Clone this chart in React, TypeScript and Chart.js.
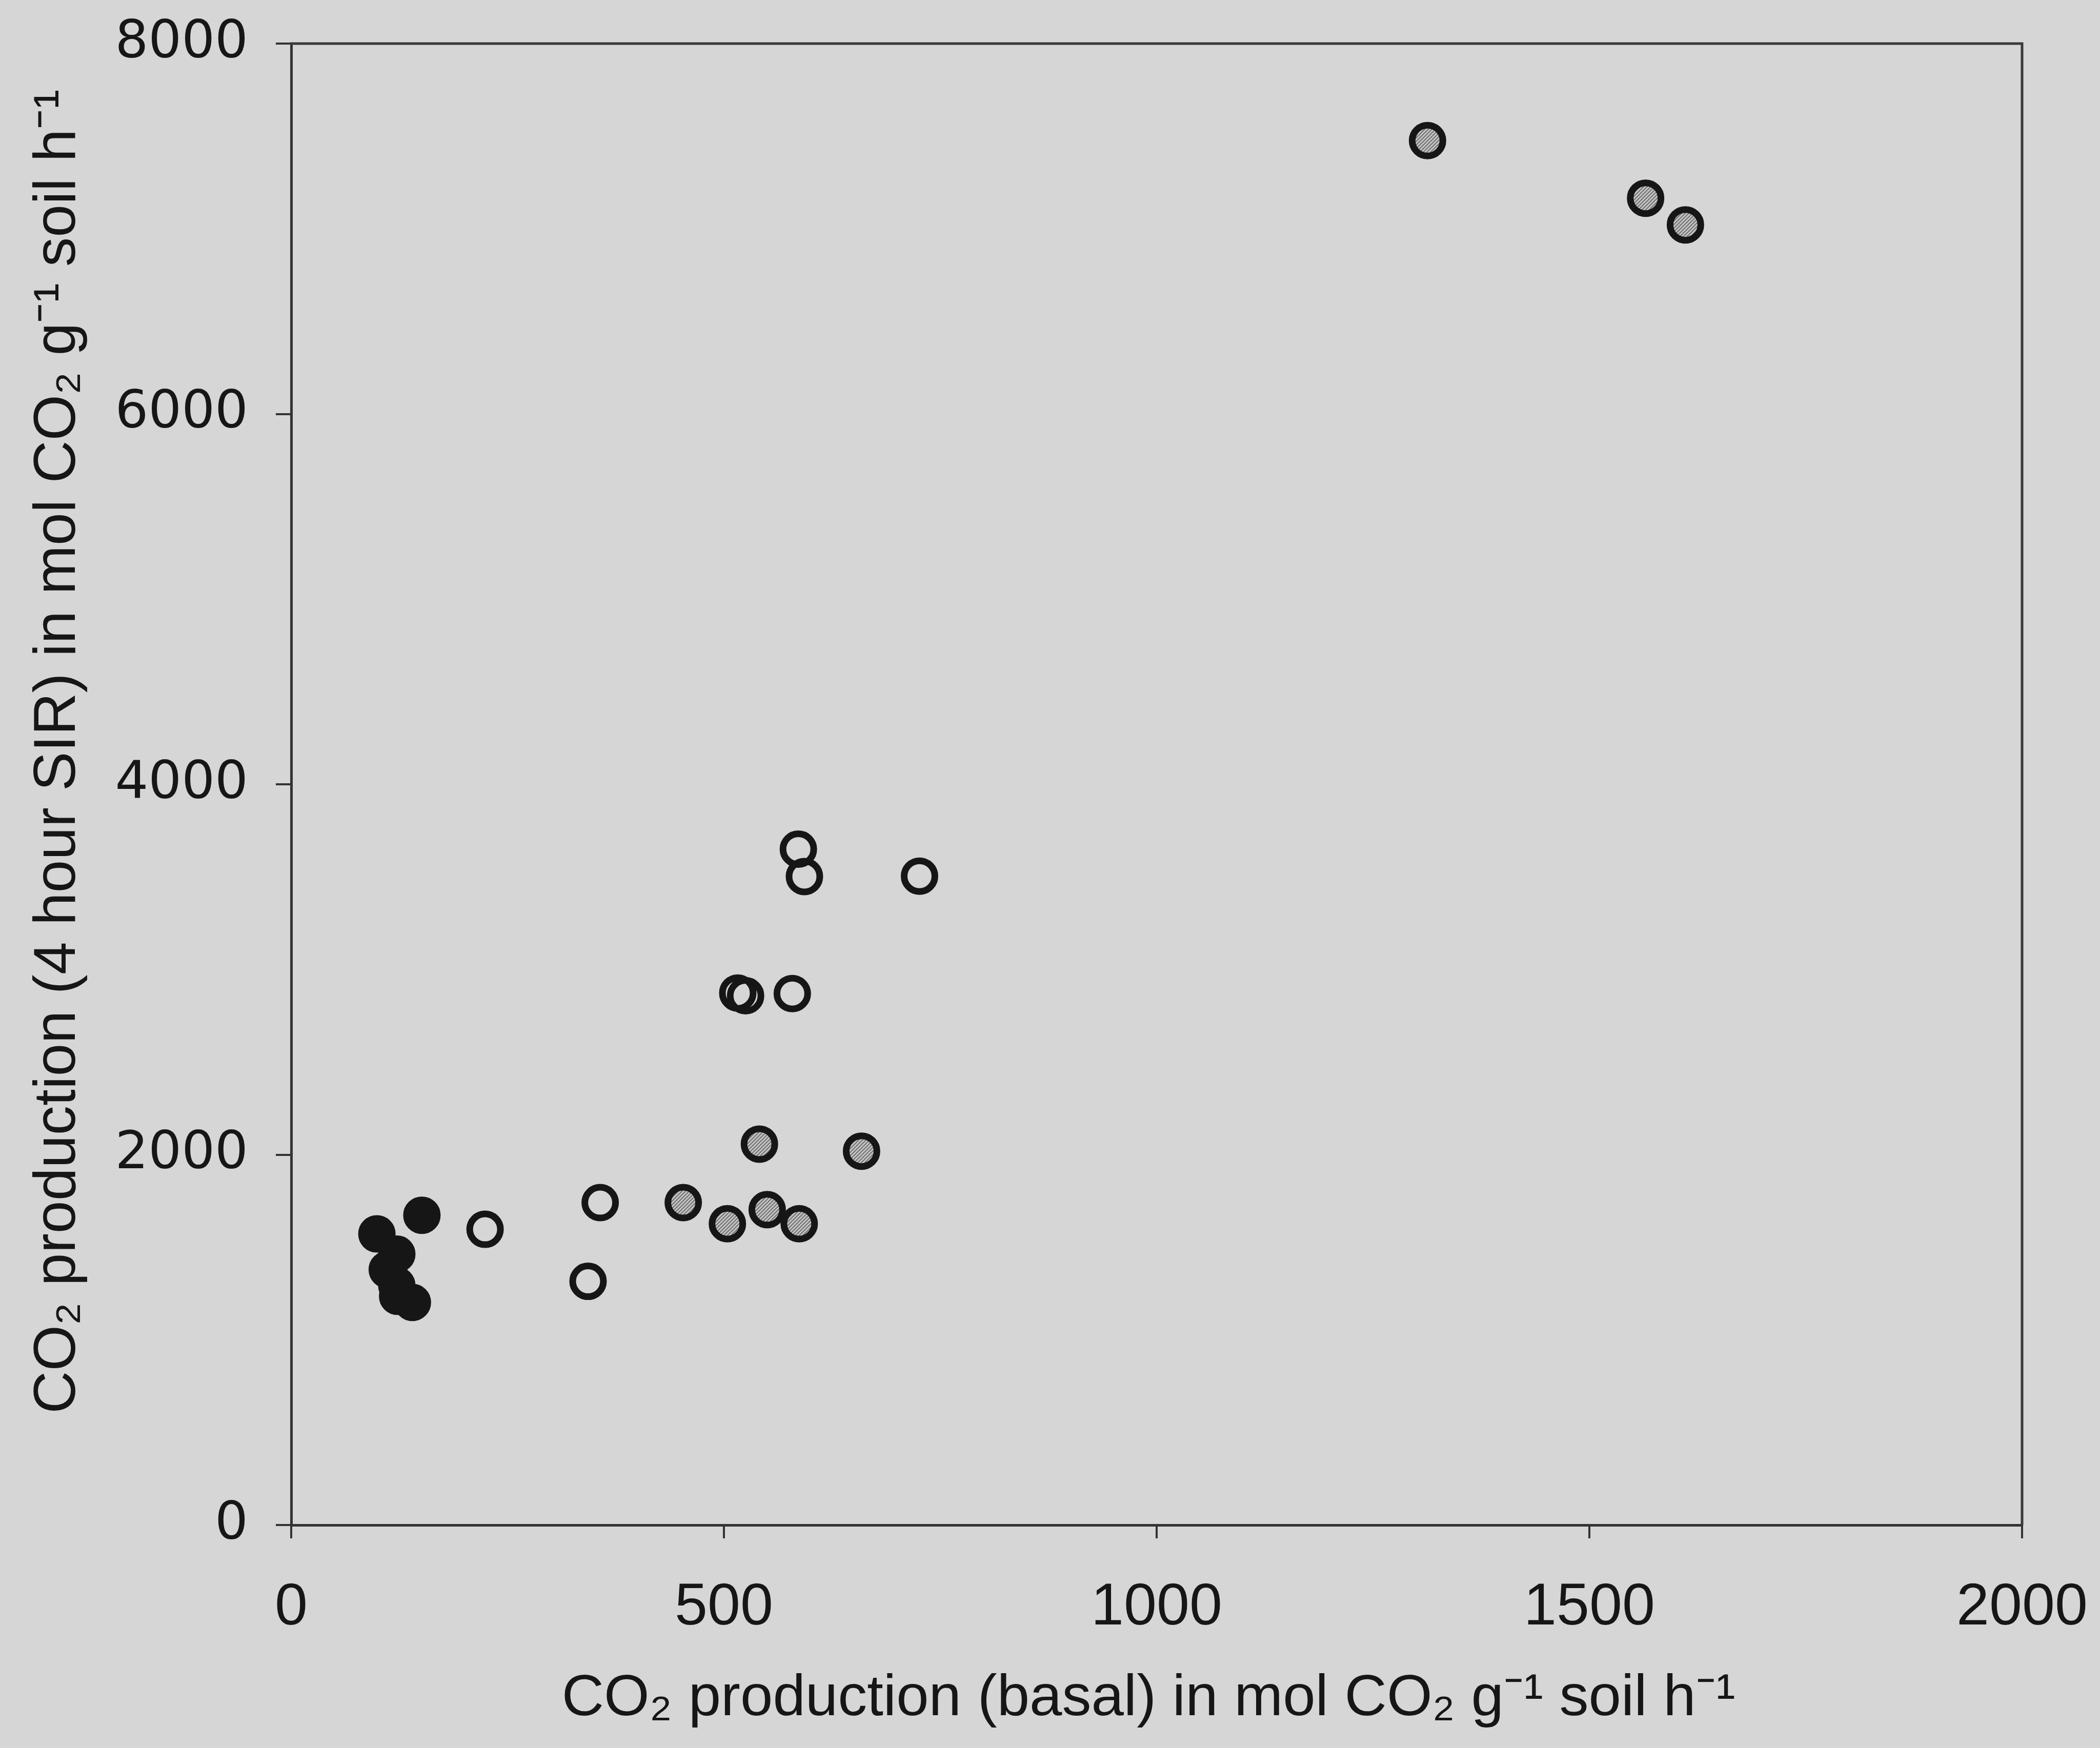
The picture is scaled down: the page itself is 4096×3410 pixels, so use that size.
import React, { useEffect, useRef } from "react";
import { Chart, registerables } from "chart.js";

Chart.register(...registerables);

const W = 4096;
const H = 3410;

// Basal CO2 production (x) against 4-hour substrate-induced respiration (y)
const openBasal = [224, 343, 357, 516, 525, 579, 586, 593, 726];
const openSIR = [1597, 1316, 1741, 2873, 2858, 2870, 3650, 3502, 3504];

const hatchedBasal = [453, 504, 541, 550, 587, 659, 1313, 1565, 1611];
const hatchedSIR = [1741, 1627, 2057, 1703, 1627, 2019, 7476, 7165, 7021];

const solidBasal = [151, 99, 122, 111, 122, 123, 140];
const solidSIR = [1673, 1572, 1463, 1379, 1294, 1235, 1202];

const xTicks = [0, 500, 1000, 1500, 2000];
const yTicks = [0, 2000, 4000, 6000, 8000];

const xTitle = "CO₂ production (basal) in mol CO₂ g⁻¹ soil h⁻¹ ";
const yTitle = "    CO₂ production (4 hour SIR) in mol CO₂ g⁻¹ soil h⁻¹";

const BG = "#d6d6d6";
const INK = "#161616";
const AXIS = "#333333";
const TITLE_FONT = "'Liberation Sans Narrow', 'Liberation Sans', Arial, sans-serif";

function pairs(xs: number[], ys: number[]) {
  return xs.map((x, i) => ({ x, y: ys[i] }));
}

// Grey fill with fine "////" hatching for the middle group
function hatchPattern(): CanvasPattern | string {
  const c = document.createElement("canvas");
  const s = 7;
  c.width = s;
  c.height = s;
  const g = c.getContext("2d");
  if (!g) return "#9a9a9a";
  g.fillStyle = "#c4c4c4";
  g.fillRect(0, 0, s, s);
  g.strokeStyle = "#666666";
  g.lineWidth = 1.8;
  g.beginPath();
  g.moveTo(-1, s + 1);
  g.lineTo(s + 1, -1);
  g.moveTo(-1, 1);
  g.lineTo(1, -1);
  g.moveTo(s - 1, s + 1);
  g.lineTo(s + 1, s - 1);
  g.stroke();
  return g.createPattern(c, "repeat") || "#9a9a9a";
}

// Closes the plot box along the top and right edges
const framePlugin = {
  id: "frame",
  afterDraw(chart: any) {
    const { ctx, chartArea: a } = chart;
    ctx.save();
    ctx.strokeStyle = "#3a3a3a";
    ctx.lineWidth = 5;
    ctx.beginPath();
    ctx.moveTo(a.left - 2, a.top);
    ctx.lineTo(a.right, a.top);
    ctx.lineTo(a.right, a.bottom);
    ctx.stroke();
    ctx.restore();
  },
};

const plain = (v: any) => String(v);

export default function App() {
  const ref = useRef<HTMLCanvasElement | null>(null);

  useEffect(() => {
    const canvas = ref.current;
    if (!canvas) return;

    const markerBase = {
      pointRadius: 30,
      pointHoverRadius: 30,
      pointBorderWidth: 13,
      pointBorderColor: INK,
      showLine: false,
    };

    const chart = new Chart(canvas, {
      type: "scatter",
      data: {
        datasets: [
          {
            label: "open",
            data: pairs(openBasal, openSIR),
            ...markerBase,
            pointBackgroundColor: "rgba(0,0,0,0)",
          },
          {
            label: "hatched",
            data: pairs(hatchedBasal, hatchedSIR),
            ...markerBase,
            pointBackgroundColor: hatchPattern() as any,
          },
          {
            label: "solid",
            data: pairs(solidBasal, solidSIR),
            ...markerBase,
            pointBackgroundColor: INK,
          },
        ],
      },
      options: {
        animation: false,
        responsive: false,
        devicePixelRatio: 1,
        events: [],
        layout: { padding: { top: 85, right: 152, left: 0, bottom: 0 } },
        plugins: {
          legend: { display: false },
          tooltip: { enabled: false },
          title: { display: false },
        },
        scales: {
          x: {
            type: "linear",
            min: 0,
            max: 2000,
            afterBuildTicks: (s: any) => {
              s.ticks = xTicks.map((v) => ({ value: v }));
            },
            afterFit: (s: any) => {
              s.height = 435;
              s.paddingLeft = 0;
              s.paddingRight = 0;
            },
            ticks: {
              color: INK,
              padding: 67,
              maxRotation: 0,
              callback: plain,
              font: { family: "'Liberation Sans', Arial, sans-serif", size: 115 },
            },
            grid: {
              display: true,
              drawOnChartArea: false,
              drawTicks: true,
              tickLength: 26,
              color: AXIS,
              lineWidth: 4,
            },
            border: { display: true, color: AXIS, width: 5 },
            title: {
              display: true,
              text: xTitle,
              color: INK,
              padding: { top: 0, bottom: 27 },
              font: { family: TITLE_FONT, size: 114 },
            },
          },
          y: {
            type: "linear",
            min: 0,
            max: 8000,
            afterBuildTicks: (s: any) => {
              s.ticks = yTicks.map((v) => ({ value: v }));
            },
            afterFit: (s: any) => {
              s.width = 568;
              s.paddingTop = 0;
              s.paddingBottom = 0;
            },
            ticks: {
              color: INK,
              padding: 54,
              callback: plain,
              font: { family: "'DejaVu Sans', sans-serif", size: 102 },
            },
            grid: {
              display: true,
              drawOnChartArea: false,
              drawTicks: true,
              tickLength: 30,
              color: AXIS,
              lineWidth: 4,
            },
            border: { display: true, color: AXIS, width: 5 },
            title: {
              display: true,
              text: yTitle,
              color: INK,
              padding: { top: 45, bottom: 0 },
              font: { family: TITLE_FONT, size: 115 },
            },
          },
        },
      },
      plugins: [framePlugin],
    });

    return () => chart.destroy();
  }, []);

  return (
    <div
      style={{
        position: "fixed",
        left: 0,
        top: 0,
        width: W,
        height: H,
        background: BG,
        overflow: "hidden",
      }}
    >
      <canvas ref={ref} width={W} height={H} style={{ width: W, height: H, display: "block" }} />
    </div>
  );
}
